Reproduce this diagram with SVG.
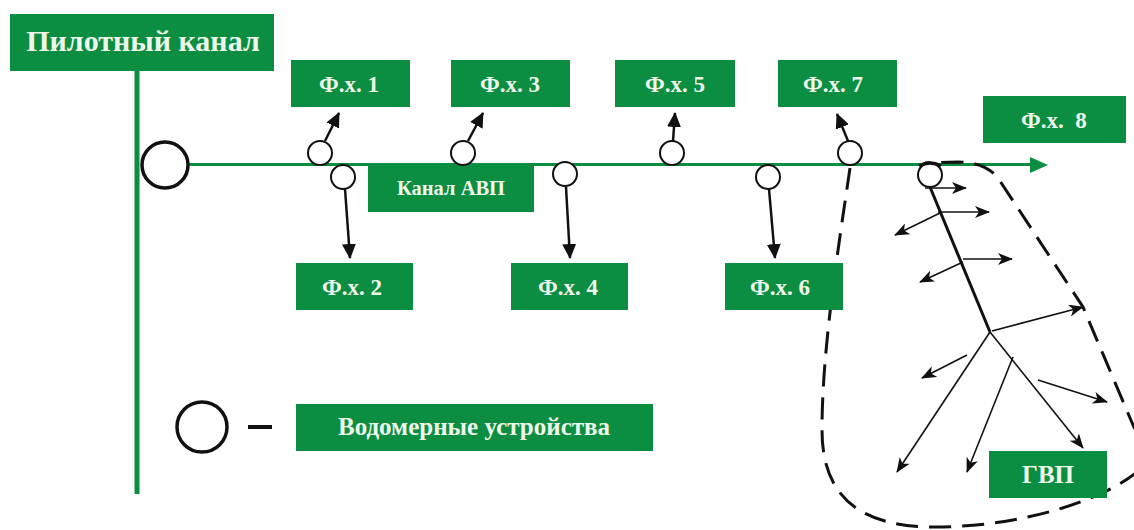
<svg xmlns="http://www.w3.org/2000/svg" width="1134" height="530" viewBox="0 0 1134 530">
<defs>
<style>
.box{fill:#0b8e41}
.t{font-family:"Liberation Serif","Times New Roman",serif;font-weight:bold;fill:#eef8ea;text-anchor:middle}
.g{stroke:#0b8e41;fill:none}
.a{stroke:#111;stroke-width:2.5;fill:none;marker-end:url(#ah)}
.th{stroke:#111;stroke-width:1.6;fill:none;marker-end:url(#ah2)}
.dev{fill:#fff;stroke:#111;stroke-width:2}
</style>
<marker id="ah" markerUnits="userSpaceOnUse" markerWidth="16" markerHeight="14" refX="14" refY="7" orient="auto"><path d="M0,0 L15,7 L0,14 Z" fill="#111"/></marker>
<marker id="ah2" markerUnits="userSpaceOnUse" markerWidth="16" markerHeight="12" refX="14" refY="6" orient="auto"><path d="M0,0 L15,6 L0,12 L4,6 Z" fill="#111"/></marker>
</defs>
<rect width="1134" height="530" fill="#fff"/>
<g id="connectors">
<line class="g" x1="137" y1="70" x2="137" y2="494" stroke-width="5"/>
<line class="g" x1="186" y1="164.5" x2="1032" y2="164.5" stroke-width="3"/>
<path d="M1030,157 L1048,165 L1030,173 Z" fill="#0b8e41"/>
<path d="M850,168 C838,250 822,350 822,430 C822,505 870,527 935,527 C1020,527 1110,500 1145,465 C1150,450 1140,440 1133,425 L1083,307 L998,178 Q985,162 958,162 L925,163" fill="none" stroke="#111" stroke-width="3" stroke-dasharray="22 11"/>
<line class="a" x1="325" y1="141" x2="339" y2="113"/>
<line class="a" x1="468" y1="141" x2="483" y2="113"/>
<line class="a" x1="673" y1="141" x2="675" y2="113"/>
<line class="a" x1="848" y1="141" x2="837" y2="114"/>
<line class="a" x1="345" y1="189" x2="350" y2="258"/>
<line class="a" x1="566" y1="187" x2="570" y2="258"/>
<line class="a" x1="769" y1="189" x2="775" y2="258"/>
<line x1="930" y1="187" x2="990" y2="332" stroke="#111" stroke-width="3"/>
<line class="th" x1="990" y1="332" x2="1083" y2="448"/>
<line class="th" x1="925" y1="188" x2="966" y2="188"/>
<line class="th" x1="938" y1="212" x2="989" y2="212"/>
<line class="th" x1="940" y1="213" x2="895" y2="235"/>
<line class="th" x1="963" y1="259" x2="1012" y2="259"/>
<line class="th" x1="963" y1="262" x2="920" y2="282"/>
<line class="th" x1="992" y1="331" x2="1083" y2="307"/>
<line class="th" x1="990" y1="332" x2="897" y2="472"/>
<line class="th" x1="1013" y1="357" x2="967" y2="472"/>
<line class="th" x1="967" y1="355" x2="922" y2="378"/>
<line class="th" x1="1038" y1="380" x2="1107" y2="402"/>
<line x1="248" y1="427" x2="272" y2="427" stroke="#111" stroke-width="4"/>
</g>
<g id="pilot"><rect class="box" x="10" y="14" width="264" height="57"/><text class="t" x="143" y="51" font-size="30">Пилотный канал</text></g>
<g id="fx1"><rect class="box" x="291" y="60" width="119" height="47"/><text class="t" x="349" y="92" font-size="23">Ф.х. 1</text></g>
<g id="fx3"><rect class="box" x="451" y="60" width="119" height="47"/><text class="t" x="510" y="92" font-size="23">Ф.х. 3</text></g>
<g id="fx5"><rect class="box" x="615" y="60" width="120" height="47"/><text class="t" x="675" y="92" font-size="23">Ф.х. 5</text></g>
<g id="fx7"><rect class="box" x="778" y="60" width="119" height="47"/><text class="t" x="833" y="92" font-size="23">Ф.х. 7</text></g>
<g id="fx8"><rect class="box" x="983" y="96" width="143" height="47"/><text class="t" x="1054" y="128" font-size="23" xml:space="preserve">Ф.х.  8</text></g>
<g id="fx2"><rect class="box" x="296" y="263" width="117" height="47"/><text class="t" x="352" y="295" font-size="23">Ф.х. 2</text></g>
<g id="fx4"><rect class="box" x="511" y="263" width="117" height="47"/><text class="t" x="568" y="295" font-size="23">Ф.х. 4</text></g>
<g id="fx6"><rect class="box" x="725" y="263" width="118" height="47"/><text class="t" x="780" y="295" font-size="23">Ф.х. 6</text></g>
<g id="avp"><rect class="box" x="368" y="164" width="166" height="48"/><text class="t" x="451" y="195" font-size="20.5">Канал АВП</text></g>
<g id="legend"><circle cx="202" cy="427" r="25" fill="none" stroke="#111" stroke-width="3.5"/><rect class="box" x="296" y="404" width="357" height="47"/><text class="t" x="474" y="435" font-size="25">Водомерные устройства</text></g>
<g id="gvp"><rect class="box" x="989" y="451" width="118" height="47"/><text class="t" x="1048" y="483" font-size="25">ГВП</text></g>
<g id="devices">
<circle cx="165" cy="165" r="23" fill="#fff" stroke="#111" stroke-width="3.5"/>
<circle class="dev" cx="320" cy="153" r="12"/>
<circle class="dev" cx="343" cy="177" r="12"/>
<circle class="dev" cx="463" cy="153" r="12"/>
<circle class="dev" cx="565" cy="174" r="12"/>
<circle class="dev" cx="672" cy="153" r="12"/>
<circle class="dev" cx="768" cy="177" r="12"/>
<circle class="dev" cx="850" cy="153" r="12"/>
<circle class="dev" cx="930" cy="175" r="12"/>
<path d="M919,166 Q930,160 941,166" fill="none" stroke="#111" stroke-width="3.5"/>
</g>
</svg>
